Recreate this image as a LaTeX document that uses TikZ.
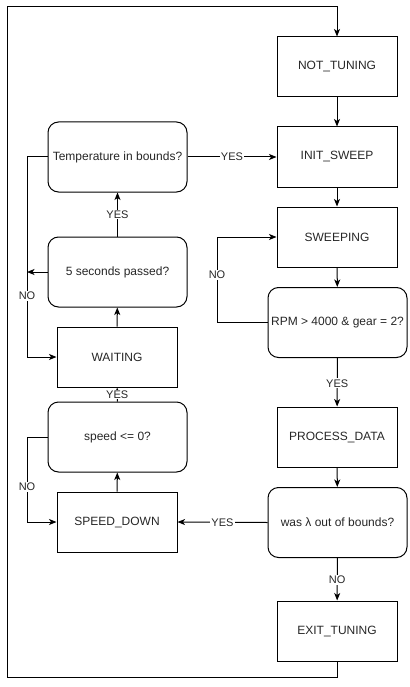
\documentclass[tikz,border=0pt]{standalone}
\usepackage{fontspec}
\setmainfont{Liberation Sans}
\usetikzlibrary{arrows.meta}
\begin{document}
\begin{tikzpicture}[x=1pt,y=-1pt,
  state/.style={draw=black, line width=1pt, rectangle, minimum width=120pt, minimum height=60pt, inner sep=0pt, font=\fontsize{12}{14}\selectfont, text=black!85},
  test/.style={draw=black, line width=1pt, rectangle, rounded corners=10.5pt, minimum width=139pt, minimum height=70pt, inner sep=0pt, font=\fontsize{12}{14}\selectfont, text=black!85},
  arr/.style={draw=black, line width=1pt, -{Stealth[length=7.5pt,width=6pt,inset=2pt]}},
  link/.style={draw=black, line width=1pt},
  lbl/.style={fill=white, inner sep=1pt, font=\fontsize{11}{13}\selectfont, text=black!85}]
\useasboundingbox (0,0) rectangle (409,687);

% main state sequence (right column)
\node[state] (nt) at (337,67) {NOT\_TUNING};
\node[state] (is) at (337,157) {INIT\_SWEEP};
\node[state] (sw) at (337,237) {SWEEPING};
\node[test]  (rpm) at (337.5,322.5) {RPM > 4000 \& gear = 2?};
\node[state] (pd) at (337,437) {PROCESS\_DATA};
\node[test]  (wl) at (337.5,522.5) {was λ out of bounds?};
\node[state] (et) at (337,631) {EXIT\_TUNING};

% recovery branch (left column)
\node[test]  (temp) at (117.5,157) {Temperature in bounds?};
\node[test]  (five) at (117.5,272) {5 seconds passed?};
\node[state] (wait) at (117,357) {WAITING};
\node[test]  (spd) at (117.5,437) {speed <= 0?};
\node[state] (sd) at (117,522) {SPEED\_DOWN};

% routing points
\coordinate (lb) at (7,677);
\coordinate (lt) at (7,7);
\coordinate (ta) at (27,157);
\coordinate (tb) at (27,357);
\coordinate (fa) at (27,272);
\coordinate (sa) at (27,437);
\coordinate (sb) at (27,522);
\coordinate (ra) at (217,322.5);
\coordinate (rb) at (217,237);

% outer loop back to the start
\draw[arr] (et.south) |- (lb) -- (lt) -| (nt.north);

% main flow
\draw[arr] (nt) -- (is);
\draw[arr] (is) -- (sw);
\draw[arr] (sw) -- (rpm);
\draw[arr] (rpm) -- node[lbl, pos=0.52]{YES} (pd);
\draw[arr] (pd) -- (wl);
\draw[arr] (wl) -- node[lbl, pos=0.52]{NO} (et);
\draw[arr] (rpm.west) -- (ra) -- node[lbl, pos=0.56]{NO} (rb) -- (sw.west);
\draw[arr] (wl.west) -- node[lbl, pos=0.5]{YES} (sd.east);

% recovery flow
\draw[arr] (sd) -- (spd);
\draw[arr] (spd) -- node[lbl, pos=0.5]{YES} (wait);
\draw[arr] (spd.west) -- (sa) -- node[lbl, pos=0.59]{NO} (sb) -- (sd.west);
\draw[arr] (wait) -- (five);
\draw[arr] (five) -- node[lbl, pos=0.5]{YES} (temp);
\draw[arr] (five.west) -- (fa);
\draw[arr] (temp.west) -- (ta) -- node[lbl, pos=0.695]{NO} (tb) -- (wait.west);
\draw[arr] (temp.east) -- node[lbl, pos=0.5]{YES} (is.west);
\end{tikzpicture}
\end{document}
